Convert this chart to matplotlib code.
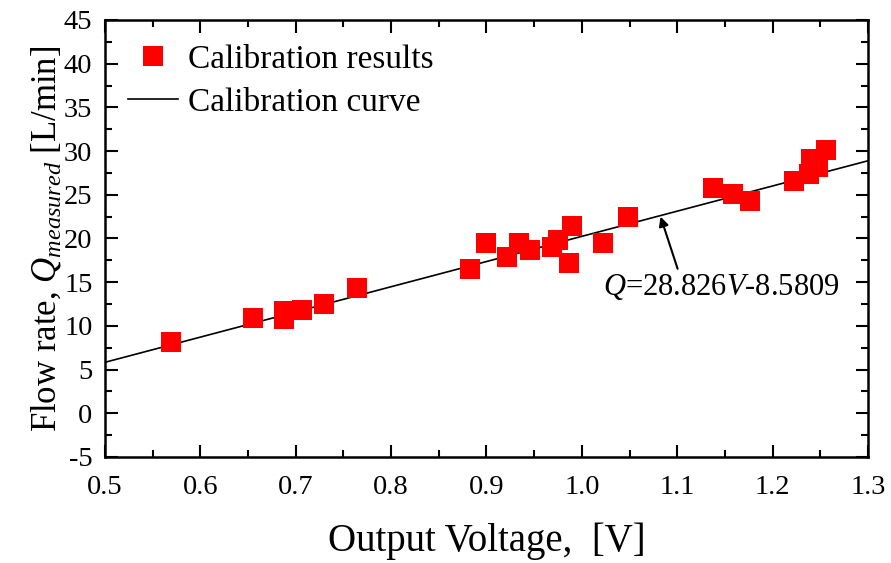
import numpy as np
import matplotlib
matplotlib.use('Agg')
import matplotlib.pyplot as plt
from matplotlib.ticker import MultipleLocator, FuncFormatter


# calibration data
voltage = [0.569, 0.6555, 0.688, 0.688, 0.7064, 0.730, 0.764, 0.883, 0.900,
           0.921, 0.934, 0.946, 0.969, 0.975, 0.9864, 0.9895, 1.022, 1.0486,
           1.1376, 1.1586, 1.1767, 1.2225, 1.2386, 1.248, 1.2407, 1.2558]
flow = [8.16, 10.87, 11.67, 10.82, 11.85, 12.54, 14.37, 16.55, 19.52,
        17.92, 19.45, 18.65, 19.03, 19.86, 17.2, 21.4, 19.52, 22.5,
        25.81, 25.06, 24.33, 26.55, 27.35, 28.2, 29.13, 30.16]

# linear fit shown in the figure
fit_slope = 28.826
fit_intercept = -8.5809
fit_range = [0.5, 1.3]


plt.rcParams['font.family'] = 'Liberation Serif'
plt.rcParams['mathtext.fontset'] = 'custom'
plt.rcParams['mathtext.rm'] = 'Liberation Serif'
plt.rcParams['mathtext.it'] = 'Liberation Serif:italic'

fig = plt.figure(figsize=(8.91, 5.63), dpi=100)
ax = fig.add_axes([0.1178, 0.1883, 0.8564, 0.7762])

vfit = np.array(fit_range)
ax.plot(vfit, fit_slope * vfit + fit_intercept, color='black', lw=1.2,
        label='Calibration curve', zorder=2)
ax.plot(voltage, flow, 's', color='red', markersize=14, markeredgewidth=0,
        label='Calibration results', zorder=3)

ax.set_xlim(0.5, 1.3)
ax.set_ylim(-5, 45)
ax.xaxis.set_major_locator(MultipleLocator(0.1))
ax.xaxis.set_minor_locator(MultipleLocator(0.05))
ax.yaxis.set_major_locator(MultipleLocator(5))
ax.yaxis.set_minor_locator(MultipleLocator(2.5))
ax.xaxis.set_major_formatter(FuncFormatter(lambda v, p: '%.1f' % v))
ax.yaxis.set_major_formatter(FuncFormatter(lambda v, p: '%d' % round(v)))

ax.tick_params(which='both', direction='in', top=True, right=True,
               width=1.5, labelsize=20.5)
ax.tick_params(which='major', length=9)
ax.tick_params(which='minor', length=5)
ax.tick_params(axis='x', which='major', pad=13)
ax.tick_params(axis='y', which='major', pad=9)
for s in ax.spines.values():
    s.set_linewidth(1.8)

ax.set_xlabel('Output Voltage,  [V]', fontsize=28, labelpad=16)
ax.set_ylabel('Flow rate, $Q_{measured}$ [L/min]', fontsize=25, labelpad=0)

ax.annotate('$Q$=28.826$V$-8.5809', xy=(1.0825, 22.5), xytext=(1.022, 14.5),
            fontsize=22, va='center', ha='left',
            arrowprops=dict(arrowstyle='-|>', color='black', lw=1.5,
                            mutation_scale=14, shrinkA=0, shrinkB=0,
                            relpos=(0.32, 1.0)))

handles, labels = ax.get_legend_handles_labels()
ax.legend(handles[::-1], labels[::-1], loc='upper left', frameon=False,
          fontsize=24, handlelength=1.5, handletextpad=0.3,
          borderpad=0, borderaxespad=0, bbox_to_anchor=(0.03, 0.944),
          labelspacing=0.38)

fig.savefig('out.png', dpi=100)
